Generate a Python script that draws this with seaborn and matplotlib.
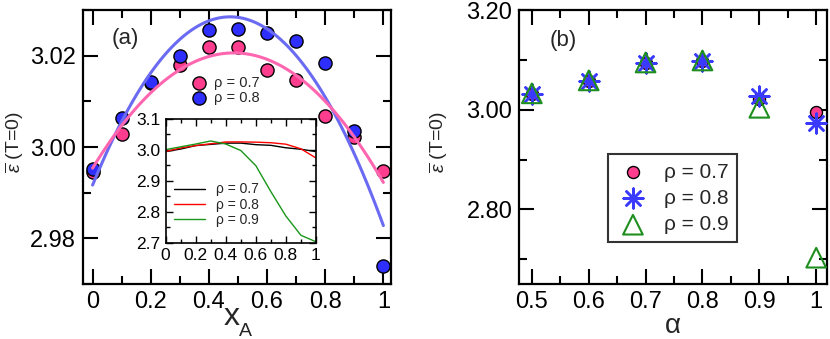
import numpy as np
import pandas as pd
import matplotlib
matplotlib.use("Agg")
import matplotlib.pyplot as plt
from matplotlib.ticker import MultipleLocator
import seaborn as sns

# ---------------- data ----------------
# panel (a): energy vs composition x_A
x_a = [0.0, 0.1, 0.2, 0.3, 0.4, 0.5, 0.6, 0.7, 0.8, 0.9, 1.0]
eps_rho07 = [2.9945, 3.0029, 3.0140, 3.0180, 3.0219, 3.0220, 3.0170, 3.0148, 3.0069, 3.0022, 2.9947]
eps_rho08 = [2.9951, 3.0063, 3.0142, 3.0199, 3.0257, 3.0259, 3.0251, 3.0233, 3.0185, 3.0035, 2.9740]
# inset: rho = 0.9 over the full range
eps_rho09 = [3.001, 3.010, 3.019, 3.029, 3.019, 2.998, 2.949, 2.865, 2.786, 2.724, 2.703]

# panel (b): energy vs alpha
alpha = [0.5, 0.6, 0.7, 0.8, 0.9, 1.0]
b_rho07 = [3.032, 3.058, 3.094, 3.098, 3.022, 2.995]
b_rho08 = [3.032, 3.058, 3.094, 3.098, 3.028, 2.973]
b_rho09 = [3.033, 3.059, 3.095, 3.099, 3.004, 2.703]

rho_labels = ["ρ = 0.7", "ρ = 0.8", "ρ = 0.9"]

xa_ticks = [0, 0.2, 0.4, 0.6, 0.8, 1.0]
xa_ticklabels = ["0", "0.2", "0.4", "0.6", "0.8", "1"]
ya_ticks = [2.98, 3.00, 3.02]
ya_ticklabels = ["2.98", "3.00", "3.02"]
in_yticks = [2.7, 2.8, 2.9, 3.0, 3.1]
in_yticklabels = ["2.7", "2.8", "2.9", "3.0", "3.1"]
xb_ticks = [0.5, 0.6, 0.7, 0.8, 0.9, 1.0]
xb_ticklabels = ["0.5", "0.6", "0.7", "0.8", "0.9", "1"]
yb_ticks = [2.8, 3.0, 3.2]
yb_ticklabels = ["2.80", "3.00", "3.20"]

# ---------------- style ----------------
sns.set_style("ticks")
plt.rcParams["font.family"] = ["Liberation Sans", "DejaVu Sans"]
plt.rcParams["mathtext.fontset"] = "custom"
plt.rcParams["mathtext.rm"] = "Liberation Sans"
plt.rcParams["mathtext.it"] = "Liberation Sans:italic"

PINK = "#ff3d8f"
BLUE = "#2e2eff"
PINK_LINE = "#ff66b0"
BLUE_LINE = "#6a6af2"
GREEN = "#1e8f1e"

fig = plt.figure(figsize=(8.3, 3.39), dpi=100)
ax_a = fig.add_axes([0.100, 0.162, 0.371, 0.808])
ax_b = fig.add_axes([0.6257, 0.162, 0.3707, 0.808])
ax_in = fig.add_axes([0.1996, 0.284, 0.1811, 0.365])


def style_axes(ax, major_len, minor_len, width, lw_spine, size, pad):
    for sp in ax.spines.values():
        sp.set_linewidth(lw_spine)
        sp.set_color("black")
    ax.tick_params(which="both", direction="in", top=True, right=True,
                   width=width, colors="black", labelsize=size, pad=pad)
    ax.tick_params(which="major", length=major_len)
    ax.tick_params(which="minor", length=minor_len)


# ---------------- panel (a) ----------------
df_a = pd.DataFrame({"x": x_a, "r07": eps_rho07, "r08": eps_rho08})

sns.scatterplot(data=df_a, x="x", y="r07", ax=ax_a, s=90, color=PINK,
                edgecolor="black", linewidth=1.0, label=rho_labels[0], zorder=3)
sns.scatterplot(data=df_a, x="x", y="r08", ax=ax_a, s=90, color=BLUE,
                edgecolor="black", linewidth=1.0, label=rho_labels[1], zorder=3)
sns.regplot(data=df_a, x="x", y="r08", order=2, scatter=False, ci=None, ax=ax_a,
            line_kws=dict(color=BLUE_LINE, lw=2.2, zorder=4))
sns.regplot(data=df_a, x="x", y="r07", order=2, scatter=False, ci=None, ax=ax_a,
            line_kws=dict(color=PINK_LINE, lw=2.2, zorder=4))

ax_a.set_xlim(-0.033, 1.026)
ax_a.set_ylim(2.970, 3.030)
ax_a.set_xticks(xa_ticks)
ax_a.set_xticklabels(xa_ticklabels)
ax_a.set_yticks(ya_ticks)
ax_a.set_yticklabels(ya_ticklabels)
ax_a.xaxis.set_minor_locator(MultipleLocator(0.1))
ax_a.yaxis.set_minor_locator(MultipleLocator(0.01))
style_axes(ax_a, 10.5, 6, 1.5, 1.6, 17, 5)
ax_a.set_xlabel("x", fontsize=23)
ax_a.xaxis.label.set_va("baseline")
ax_a.xaxis.set_label_coords(0.482, -0.15)
ax_a.text(0.506, -0.19, "A", transform=ax_a.transAxes, fontsize=14,
          ha="left", va="baseline")
ax_a.set_ylabel(r"$\overline{\varepsilon}$ (T=0)", fontsize=14)
ax_a.yaxis.set_label_coords(-0.185, 0.52)
ax_a.text(0.136, 0.895, "(a)", transform=ax_a.transAxes, fontsize=16,
          ha="center", va="center")
ax_a.legend(loc="upper left", bbox_to_anchor=(0.33, 0.78), frameon=False,
            fontsize=10.5, handletextpad=0.4, labelspacing=0.05,
            borderaxespad=0, handlelength=1.2)

# ---------------- inset ----------------
df_in = pd.DataFrame({"x": x_a * 3,
                      "eps": eps_rho07 + eps_rho08 + eps_rho09,
                      "rho": [rho_labels[0]] * len(x_a) + [rho_labels[1]] * len(x_a)
                      + [rho_labels[2]] * len(x_a)})
sns.lineplot(data=df_in, x="x", y="eps", hue="rho", ax=ax_in,
             palette=["black", "#ff0000", "#1a961a"], lw=1.0)
ax_in.set_xlim(0, 1)
ax_in.set_ylim(2.7, 3.1)
ax_in.set_xticks(xa_ticks)
ax_in.set_xticklabels(xa_ticklabels)
ax_in.set_yticks(in_yticks)
ax_in.set_yticklabels(in_yticklabels)
ax_in.xaxis.set_minor_locator(MultipleLocator(0.1))
ax_in.yaxis.set_minor_locator(MultipleLocator(0.05))
style_axes(ax_in, 5, 3, 1.0, 1.2, 12.5, 4)
ax_in.set_xlabel("")
ax_in.set_ylabel("")
ax_in.legend(loc="lower left", bbox_to_anchor=(0.02, 0.08), frameon=False,
             fontsize=10, handlelength=2.2, handletextpad=0.8,
             labelspacing=0.1, borderaxespad=0)

# ---------------- panel (b) ----------------
df_b = pd.DataFrame({"alpha": alpha, "r07": b_rho07, "r08": b_rho08, "r09": b_rho09})
sns.scatterplot(data=df_b, x="alpha", y="r07", ax=ax_b, s=75, color=PINK,
                edgecolor="black", linewidth=1.0, label=rho_labels[0], zorder=3)
sns.scatterplot(data=df_b, x="alpha", y="r08", ax=ax_b, s=200, marker=(8, 2, 0),
                color="#3a3aff", linewidth=1.8, label=rho_labels[1], zorder=4)
sns.scatterplot(data=df_b, x="alpha", y="r09", ax=ax_b, s=200, marker="^",
                color=GREEN, facecolor="none", edgecolor=GREEN, linewidth=1.5,
                label=rho_labels[2], zorder=5)
ax_b.set_xlim(0.478, 1.019)
ax_b.set_ylim(2.65, 3.20)
ax_b.set_xticks(xb_ticks)
ax_b.set_xticklabels(xb_ticklabels)
ax_b.set_yticks(yb_ticks)
ax_b.set_yticklabels(yb_ticklabels)
ax_b.xaxis.set_minor_locator(MultipleLocator(0.05))
ax_b.yaxis.set_minor_locator(MultipleLocator(0.1))
style_axes(ax_b, 10.5, 6, 1.5, 1.6, 17, 5)
ax_b.set_xlabel("α", fontsize=20, labelpad=0)
ax_b.set_ylabel(r"$\overline{\varepsilon}$ (T=0)", fontsize=14)
ax_b.yaxis.set_label_coords(-0.225, 0.52)
ax_b.text(0.142, 0.89, "(b)", transform=ax_b.transAxes, fontsize=16,
          ha="center", va="center")
leg = ax_b.legend(loc="upper left", bbox_to_anchor=(0.288, 0.474), frameon=True,
                  fontsize=15, handletextpad=0.7, labelspacing=0.35,
                  borderaxespad=0, fancybox=False, borderpad=0.4, handlelength=1.6)
leg.get_frame().set_edgecolor("black")
leg.get_frame().set_linewidth(1.5)

fig.savefig("out.png", dpi=100)
